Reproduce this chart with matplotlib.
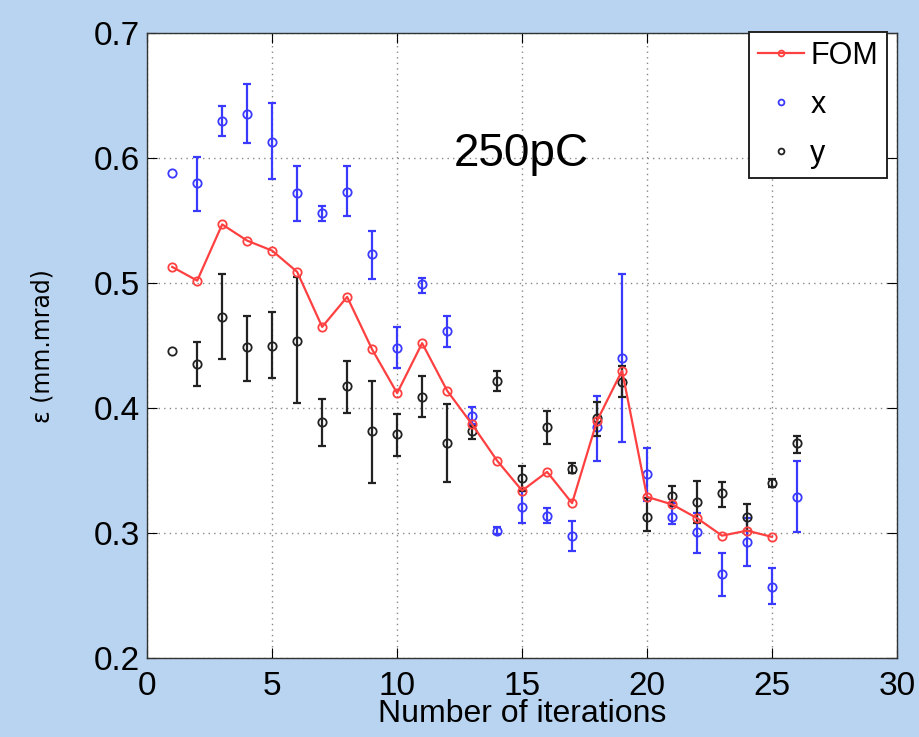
import matplotlib
matplotlib.use("Agg")
import matplotlib.pyplot as plt
import numpy as np

# Emittance optimisation history at 250 pC
iterations = list(range(1, 27))

emit_x = [0.588, 0.580, 0.630, 0.635, 0.613, 0.572, 0.556, 0.573, 0.523, 0.448,
          0.499, 0.462, 0.394, 0.302, 0.321, 0.314, 0.298, 0.385, 0.440, 0.347,
          0.313, 0.301, 0.267, 0.293, 0.257, 0.329]
emit_x_lo = [0.0, 0.022, 0.012, 0.023, 0.030, 0.022, 0.006, 0.019, 0.020, 0.016,
             0.007, 0.013, 0.007, 0.003, 0.013, 0.006, 0.012, 0.027, 0.067, 0.021,
             0.006, 0.017, 0.017, 0.019, 0.014, 0.028]
emit_x_hi = [0.0, 0.021, 0.012, 0.024, 0.031, 0.022, 0.006, 0.021, 0.019, 0.017,
             0.005, 0.012, 0.007, 0.003, 0.013, 0.006, 0.012, 0.025, 0.067, 0.021,
             0.011, 0.015, 0.017, 0.019, 0.015, 0.029]

emit_y = [0.446, 0.435, 0.473, 0.449, 0.450, 0.454, 0.389, 0.418, 0.382, 0.379,
          0.409, 0.372, 0.382, 0.422, 0.344, 0.385, 0.351, 0.392, 0.421, 0.313,
          0.330, 0.325, 0.332, 0.313, 0.340, 0.372]
emit_y_lo = [0.0, 0.017, 0.034, 0.027, 0.026, 0.050, 0.019, 0.022, 0.042, 0.017,
             0.016, 0.031, 0.007, 0.008, 0.010, 0.014, 0.003, 0.014, 0.012, 0.011,
             0.008, 0.017, 0.011, 0.011, 0.003, 0.008]
emit_y_hi = [0.0, 0.018, 0.034, 0.025, 0.027, 0.051, 0.018, 0.020, 0.040, 0.016,
             0.017, 0.031, 0.004, 0.008, 0.010, 0.013, 0.005, 0.013, 0.013, 0.015,
             0.008, 0.017, 0.009, 0.010, 0.003, 0.006]

fom_iter = list(range(1, 26))
fom = [0.513, 0.502, 0.547, 0.534, 0.526, 0.509, 0.465, 0.489, 0.447, 0.412,
       0.452, 0.414, 0.387, 0.358, 0.334, 0.349, 0.324, 0.390, 0.430, 0.329,
       0.323, 0.312, 0.298, 0.302, 0.297]

plt.rcParams["font.family"] = ["Liberation Sans", "DejaVu Sans"]

bg = "#b9d4f1"
fig = plt.figure(figsize=(9.2, 7.37), dpi=100, facecolor=bg)
ax = fig.add_axes([0.160, 0.107, 0.815, 0.848])
ax.set_facecolor("white")

blue = "#3a3aff"
dark = "#222222"
red = "#ff4040"


def draw_series(xs, ys, lo, hi, color, label):
    # markers for every iteration, error bars only where a spread was measured
    ax.plot(xs, ys, "o", ms=6, mfc="none", mec=color, mew=1.3, label=label, zorder=3)
    idx = [i for i in range(len(xs)) if lo[i] > 0 or hi[i] > 0]
    ax.errorbar([xs[i] for i in idx], [ys[i] for i in idx],
                yerr=[[lo[i] for i in idx], [hi[i] for i in idx]],
                fmt="none", ecolor=color, elinewidth=1.6, capsize=3,
                capthick=1.6, zorder=3)


draw_series(iterations, emit_x, emit_x_lo, emit_x_hi, blue, "x")
draw_series(iterations, emit_y, emit_y_lo, emit_y_hi, dark, "y")
ax.plot(fom_iter, fom, "-o", color=red, ms=6, mfc="none", mec=red, lw=1.6,
        mew=1.3, label="FOM", zorder=4)

ax.set_xlim(0, 30)
ax.set_ylim(0.2, 0.7)
ax.set_xticks(np.arange(0, 31, 5))
ax.set_yticks(np.arange(0.2, 0.71, 0.1))
ax.set_yticklabels(["0.2", "0.3", "0.4", "0.5", "0.6", "0.7"])
ax.grid(True, linestyle=(0, (1, 3)), color="#888888", linewidth=1.0)
ax.tick_params(direction="in", length=7, labelsize=24, top=True, right=True)
ax.tick_params(axis="x", pad=9)
ax.tick_params(axis="y", pad=5)
for s in ax.spines.values():
    s.set_linewidth(1.0)
    s.set_color("#333333")

ax.set_xlabel("Number of iterations", fontsize=23)
ax.xaxis.set_label_coords(0.5, -0.066)
ax.set_ylabel("ε (mm.mrad)", fontsize=17, family=["DejaVu Sans"])
ax.yaxis.set_label_coords(-0.124, 0.5)

ax.text(14.96, 0.603, "250pC", fontsize=33, ha="center", va="center")

handles, labels = ax.get_legend_handles_labels()
order = [labels.index("FOM"), labels.index("x"), labels.index("y")]
leg = ax.legend([handles[i] for i in order], [labels[i] for i in order],
                loc="upper right", bbox_to_anchor=(0.987, 1.002), fontsize=22,
                frameon=True, fancybox=False, edgecolor="#222222", framealpha=1,
                borderpad=0.3, handlelength=1.5, labelspacing=0.62,
                handletextpad=0.2, borderaxespad=0, markerscale=0.7)
leg.get_frame().set_linewidth(1.4)

fig.savefig("out.png", dpi=100, facecolor=bg)
